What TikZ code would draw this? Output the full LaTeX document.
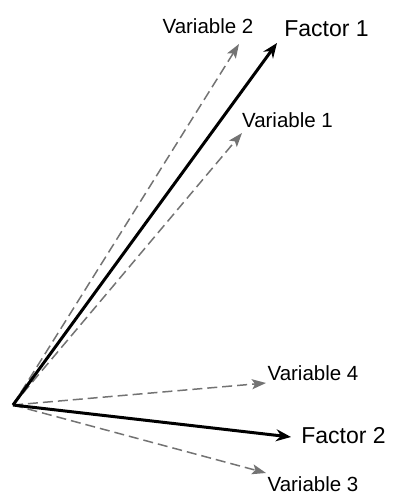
\documentclass[tikz,border=0pt]{standalone}
\usepackage{fontspec}
\setmainfont{Liberation Sans}
\usetikzlibrary{arrows.meta}

\begin{document}
\begin{tikzpicture}[
  x=1pt, y=-1pt,
  factvec/.style={-{Stealth[length=15pt, width=12pt, inset=5pt]}, line width=3pt, black},
  varvec/.style={-{Stealth[length=14pt, width=10pt, inset=3pt]}, line width=1.5pt, black!55, dash pattern=on 10pt off 5pt},
  flabel/.style={font=\fontsize{23}{23}\selectfont, inner sep=0pt},
  vlabel/.style={font=\fontsize{20.5}{20.5}\selectfont, inner sep=0pt}
]
\useasboundingbox (0,0) rectangle (392,495);

\coordinate (origin) at (13,405);
\coordinate (f1) at (277,43);
\coordinate (f2) at (291,437);
\coordinate (v1) at (242,133);
\coordinate (v2) at (239,44);
\coordinate (v3) at (266,473);
\coordinate (v4) at (266,383);

\node[flabel] (lf1) at (326.5,29) {Factor 1};
\node[flabel] (lf2) at (343.5,436) {Factor 2};
\node[vlabel] (lv1) at (287.5,120.5) {Variable 1};
\node[vlabel] (lv2) at (208,26.5) {Variable 2};
\node[vlabel] (lv3) at (313,484.5) {Variable 3};
\node[vlabel] (lv4) at (313,373.5) {Variable 4};

\draw[varvec] (origin) -- (v1);
\draw[varvec] (origin) -- (v2);
\draw[varvec] (origin) -- (v3);
\draw[varvec] (origin) -- (v4);
\draw[factvec] (origin) -- (f1);
\draw[factvec] (origin) -- (f2);

\end{tikzpicture}
\end{document}
